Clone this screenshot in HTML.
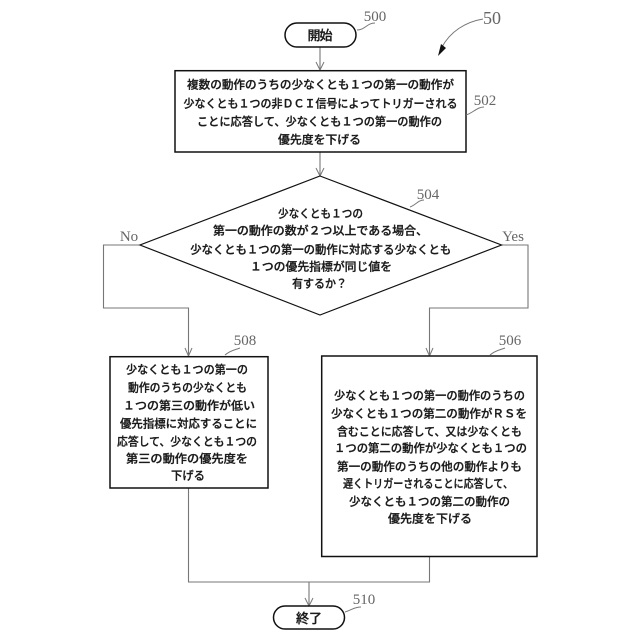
<!DOCTYPE html>
<html><head><meta charset="utf-8"><style>
html,body{margin:0;padding:0;background:#fff}
svg{display:block}
.t{font-family:"Liberation Sans","Noto Sans CJK JP",sans-serif;font-size:11.6px;font-weight:500;fill:#1a1a1a;text-anchor:middle;stroke:#1a1a1a;stroke-width:.3}
.n{font-family:"Liberation Serif",serif;fill:#666;text-anchor:middle;font-size:15px}
.b{fill:#fff;stroke:#111;stroke-width:1.5}
.l{fill:none;stroke:#777;stroke-width:1.1}
.a{fill:none;stroke:#777;stroke-width:1}
</style></head><body>
<svg width="640" height="640" viewBox="0 0 640 640" xmlns="http://www.w3.org/2000/svg">
<!-- connectors -->
<path class="l" d="M320 47V70M320 152V176"/>
<path class="l" d="M140 245H103.500V308H188.500V356"/>
<path class="l" d="M501 245H528V308H429.500V356"/>
<path class="l" d="M188.500 488V582H429.500V556M309 582V606"/>
<path class="a" d="M316 62L320 70L324 62M316 168L320 176L324 168M185 348L188.500 356L192 348M426 348L429.500 356L433 348M305 598L309 606L313 598"/>
<!-- shapes -->
<rect class="b" x="285" y="23" width="71" height="24" rx="12"/>
<rect class="b" x="175" y="70.700" width="291" height="81.300"/>
<path class="b" d="M320 176L501.500 245L320 315L140 245Z" style="stroke-width:1.2"/>
<rect class="b" x="110" y="356.700" width="158" height="131.300"/>
<rect class="b" x="321.700" y="356" width="215.300" height="200.500"/>
<rect class="b" x="273.500" y="606" width="71" height="23" rx="11.500"/>
<!-- text -->
<text class="t" x="320" y="40" style="font-size:13px" textLength="25">開始</text>
<text class="t" x="320.500" y="88.500" textLength="267" lengthAdjust="spacingAndGlyphs">複数の動作のうちの少なくとも１つの第一の動作が</text>
<text class="t" x="320.500" y="107.500" textLength="274" lengthAdjust="spacingAndGlyphs">少なくとも１つの非ＤＣＩ信号によってトリガーされる</text>
<text class="t" x="319.500" y="125.500" textLength="245" lengthAdjust="spacingAndGlyphs">ことに応答して、少なくとも１つの第一の動作の</text>
<text class="t" x="319.500" y="143.500" textLength="83" lengthAdjust="spacingAndGlyphs">優先度を下げる</text>

<text class="t" x="320.500" y="217.500" textLength="85" lengthAdjust="spacingAndGlyphs">少なくとも１つの</text>
<text class="t" x="320.500" y="234.500" textLength="215" lengthAdjust="spacingAndGlyphs">第一の動作の数が２つ以上である場合、</text>
<text class="t" x="320.700" y="253.500" textLength="261" lengthAdjust="spacingAndGlyphs">少なくとも１つの第一の動作に対応する少なくとも</text>
<text class="t" x="321" y="270.500" textLength="142" lengthAdjust="spacingAndGlyphs">１つの優先指標が同じ値を</text>
<text class="t" x="319.500" y="287.500" textLength="55" lengthAdjust="spacingAndGlyphs">有するか？</text>

<text class="t" x="187" y="373.500" textLength="122" lengthAdjust="spacingAndGlyphs">少なくとも１つの第一の</text>
<text class="t" x="187.500" y="391.500" textLength="119" lengthAdjust="spacingAndGlyphs">動作のうちの少なくとも</text>
<text class="t" x="189" y="409.500" textLength="132" lengthAdjust="spacingAndGlyphs">１つの第三の動作が低い</text>
<text class="t" x="188.500" y="427.500" textLength="137" lengthAdjust="spacingAndGlyphs">優先指標に対応することに</text>
<text class="t" x="187" y="445.500" textLength="140" lengthAdjust="spacingAndGlyphs">応答して、少なくとも１つの</text>
<text class="t" x="187" y="462.500" textLength="122" lengthAdjust="spacingAndGlyphs">第三の動作の優先度を</text>
<text class="t" x="188" y="479.500" textLength="34" lengthAdjust="spacingAndGlyphs">下げる</text>

<text class="t" x="429.500" y="399.500" textLength="191" lengthAdjust="spacingAndGlyphs">少なくとも１つの第一の動作のうちの</text>
<text class="t" x="429" y="417.500" textLength="196" lengthAdjust="spacingAndGlyphs">少なくとも１つの第二の動作がＲＳを</text>
<text class="t" x="429.500" y="435.500" textLength="185" lengthAdjust="spacingAndGlyphs">含むことに応答して、又は少なくとも</text>
<text class="t" x="430.500" y="452" textLength="193" lengthAdjust="spacingAndGlyphs">１つの第二の動作が少なくとも１つの</text>
<text class="t" x="429.500" y="470.500" textLength="185" lengthAdjust="spacingAndGlyphs">第一の動作のうちの他の動作よりも</text>
<text class="t" x="428" y="487.500" textLength="170" lengthAdjust="spacingAndGlyphs">遅くトリガーされることに応答して、</text>
<text class="t" x="429.500" y="505.500" textLength="161" lengthAdjust="spacingAndGlyphs">少なくとも１つの第二の動作の</text>
<text class="t" x="430" y="522.500" textLength="84" lengthAdjust="spacingAndGlyphs">優先度を下げる</text>

<text class="t" x="309" y="623" style="font-size:13px" textLength="26">終了</text>
<!-- reference labels -->
<text class="n" x="375" y="21">500</text>
<text class="n" x="492" y="24" style="font-size:18px">50</text>
<text class="n" x="485" y="105">502</text>
<text class="n" x="428" y="199">504</text>
<text class="n" x="245" y="345">508</text>
<text class="n" x="510" y="345">506</text>
<text class="n" x="364" y="604">510</text>
<text class="n" x="129" y="241">No</text>
<text class="n" x="513" y="241">Yes</text>
<!-- leaders -->
<path class="a" d="M357 30C365 30 367 23 375 23"/>
<path class="a" d="M483 19C465 22 450 32 442 47"/>
<path d="M438 56L441 44L446 48Z" fill="#111"/>
<path class="a" d="M466 115C473 113 477 107 484 107"/>
<path class="a" d="M410 207C416 205 418 200 424 200"/>
<path class="a" d="M225 355C231 350 235 350 240 348"/>
<path class="a" d="M490 355C496 350 500 350 505 348"/>
<path class="a" d="M345 612C352 610 354 607 361 607"/>
</svg>
</body></html>
